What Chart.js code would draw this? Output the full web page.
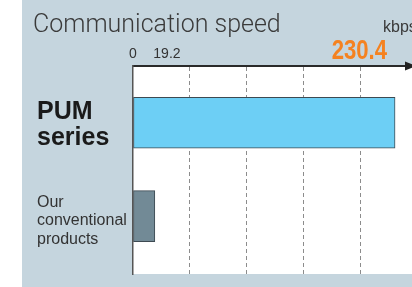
<!DOCTYPE html>
<html>
<head>
<meta charset="utf-8">
<script src="https://cdn.jsdelivr.net/npm/chart.js@4"></script>
<style>
  html, body { margin: 0; padding: 0; background: #fff; }
  #wrap { width: 412px; height: 287px; }
</style>
</head>
<body>
<div id="wrap"><canvas id="speedChart" width="412" height="287"></canvas></div>
<script>
// data
const categories = [['PUM', 'series'], ['Our', 'conventional', 'products']];
const speeds = [230.4, 19.2];            // kbps
const tickValues = [0, 19.2, 230.4];
const tickLabels = ['0', '19.2', '230.4'];
const chartTitle = 'Communication speed';
const unitLabel = 'kbps';

const barColors = ['#6dcff5', '#728a96'];
const panelColor = '#c5d5de';

// backgrounds, labels, arrow
const decor = {
    id: 'decor',
    beforeDraw(chart) {
        const {ctx, chartArea: a, width, height} = chart;
        ctx.save();
        ctx.fillStyle = panelColor;
        ctx.fillRect(22, 0, width - 22, height);
        ctx.fillStyle = '#fff';
        ctx.fillRect(a.left, a.top, a.right - a.left, a.bottom - a.top);
        ctx.restore();
    },
    afterDraw(chart) {
        const {ctx, chartArea: a} = chart;
        const x = chart.scales.x, y = chart.scales.y;
        ctx.save();

        // title + unit
        ctx.fillStyle = '#3a3a3a';
        ctx.textAlign = 'left';
        ctx.textBaseline = 'alphabetic';
        ctx.font = '300 25px Roboto, "Liberation Sans", sans-serif';
        ctx.fillText(chartTitle, 33, 32);
        ctx.font = '16px "Liberation Sans", Arial, sans-serif';
        ctx.fillText(unitLabel, 383, 32);

        // arrow on the top axis
        ctx.fillStyle = '#222';
        ctx.beginPath();
        ctx.moveTo(405, a.top - 4.5);
        ctx.lineTo(416, a.top);
        ctx.lineTo(405, a.top + 4.5);
        ctx.closePath();
        ctx.fill();

        // tick labels
        tickValues.forEach((v, i) => {
            const px = x.getPixelForValue(v);
            if (i === 0) {
                ctx.font = '14px "Liberation Sans", Arial, sans-serif';
                ctx.fillStyle = '#333';
                ctx.textAlign = 'center';
                ctx.fillText(tickLabels[i], px, 58);
            } else if (i === tickValues.length - 1) {
                // condensed bold figure
                ctx.save();
                ctx.font = 'bold 27px "Liberation Sans", Arial, sans-serif';
                ctx.fillStyle = '#f58220';
                ctx.textAlign = 'right';
                ctx.translate(px - 8, 59);
                ctx.scale(0.82, 1);
                ctx.fillText(tickLabels[i], 0, 0);
                ctx.restore();
            } else {
                ctx.font = '14px "Liberation Sans", Arial, sans-serif';
                ctx.fillStyle = '#333';
                ctx.textAlign = 'left';
                ctx.fillText(tickLabels[i], px - 1.5, 58);
            }
        });

        // category labels
        const fonts = ['bold 25px "Liberation Sans", Arial, sans-serif', '16px "Liberation Sans", Arial, sans-serif'];
        const colors = ['#1a1a1a', '#333'];
        const firstOff = [-3.5, -9.5];
        const lineH = [25.7, 18.7];
        ctx.textAlign = 'left';
        categories.forEach((lines, i) => {
            const cy = y.getPixelForValue(i);
            ctx.font = fonts[i];
            ctx.fillStyle = colors[i];
            lines.forEach((t, j) => ctx.fillText(t, 37, cy + firstOff[i] + j * lineH[i]));
        });
        ctx.restore();
    }
};

new Chart(document.getElementById('speedChart'), {
    type: 'bar',
    data: {
        datasets: [{
            data: speeds.map((v, i) => ({x: v, y: i})),
            backgroundColor: barColors,
            borderColor: '#3d4a52',
            borderWidth: 1,
            borderSkipped: false,
            barThickness: 51
        }]
    },
    options: {
        indexAxis: 'y',
        responsive: false,
        animation: false,
        layout: { padding: { left: 133, top: 66, right: 0, bottom: 13 } },
        plugins: { legend: { display: false }, tooltip: { enabled: false } },
        scales: {
            x: {
                type: 'linear',
                position: 'top',
                min: 0,
                max: 245.3,
                afterFit: s => { s.height = 0; },
                ticks: { display: false, stepSize: 50 },
                grid: {
                    drawTicks: false,
                    lineWidth: 1,
                    color: c => (c.tick && c.tick.value > 0 && c.tick.value % 50 === 0) ? '#8c8c8c' : 'rgba(0,0,0,0)'
                },
                border: { display: true, color: '#2a2a2a', width: 2, dash: [4, 3] }
            },
            y: {
                type: 'linear',
                reverse: true,
                offset: false,
                min: -0.608,
                max: 1.619,
                afterFit: s => { s.width = 0; },
                ticks: { display: false },
                grid: { display: false, drawTicks: false },
                border: { display: true, color: '#555', width: 1.5 }
            }
        }
    },
    plugins: [decor]
});
</script>
</body>
</html>
